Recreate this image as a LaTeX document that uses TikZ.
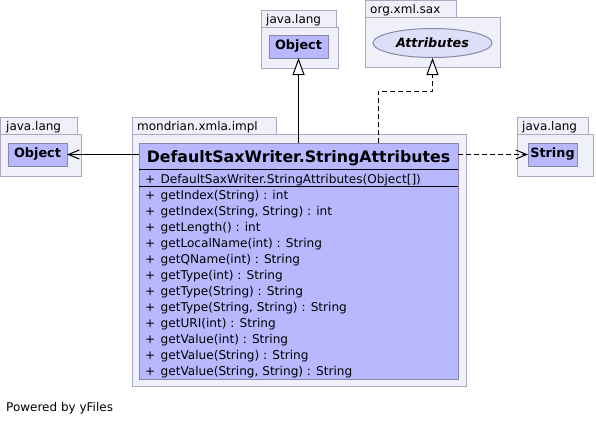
\documentclass[tikz,border=0pt]{standalone}
\usepackage{fontspec}
\setmainfont{DejaVu Sans}
\usetikzlibrary{arrows.meta,shapes.geometric}
\definecolor{pkgfill}{RGB}{240,240,250}
\definecolor{pkgline}{RGB}{168,168,192}
\definecolor{clsfill}{RGB}{184,184,255}
\definecolor{clsline}{RGB}{136,136,170}
\definecolor{ellfill}{RGB}{222,222,248}
\begin{document}
\begin{tikzpicture}[x=1pt,y=-1pt,
  pkg/.style={draw=pkgline, fill=pkgfill, line width=1pt, anchor=north west, inner sep=0pt, outer sep=0pt},
  clsbox/.style={draw=clsline, fill=clsfill, line width=1pt, anchor=north west, inner sep=0pt, outer sep=0pt},
  lbl/.style={anchor=base west, inner sep=0pt, font=\fontsize{12}{14}\selectfont},
  small/.style={font=\fontsize{12.8}{14}\selectfont\bfseries},
  member/.style={anchor=base west, inner sep=0pt, font=\fontsize{12.1}{14}\selectfont},
  assoc/.style={line width=1pt, -{Straight Barb[length=11pt,width=9pt,line width=1pt]}},
  dep/.style={line width=1pt, dash pattern=on 5pt off 3pt, -{Straight Barb[length=11pt,width=9pt,line width=1pt]}},
  inh/.style={line width=1pt, -{Triangle[length=17pt,width=12pt,fill=white,line width=1pt]}},
  real/.style={line width=1pt, dash pattern=on 5pt off 3pt, -{Triangle[length=17pt,width=12pt,fill=white,line width=1pt]}},
]
\useasboundingbox (0,0) rectangle (596,423);

% left java.lang
\node[pkg, minimum width=77pt, minimum height=17pt] (ltab) at (0.5,117) {};
\node[pkg, minimum width=81pt, minimum height=42pt] (lpkg) at (0.5,134) {};
\node[lbl] (ltabtxt) at (6,130) {java.lang};
\node[clsbox, minimum width=59pt, minimum height=23pt, small] (lobj) at (8,143) {Object};

% top java.lang
\node[pkg, minimum width=75pt, minimum height=17pt] (ttab) at (261,10) {};
\node[pkg, minimum width=77pt, minimum height=41pt] (tpkg) at (261,27) {};
\node[lbl] (ttabtxt) at (266,23) {java.lang};
\node[clsbox, minimum width=59pt, minimum height=23pt, small] (tobj) at (269,35) {Object};

% org.xml.sax
\node[pkg, minimum width=91pt, minimum height=17pt] (stab) at (365,0.5) {};
\node[pkg, minimum width=135pt, minimum height=50pt] (spkg) at (365,17) {};
\node[lbl] (stabtxt) at (370,13) {org.xml.sax};
\node[ellipse, draw=clsline, fill=ellfill, line width=1pt, minimum width=119pt, minimum height=29pt, inner sep=0pt,
      font=\fontsize{12.8}{14}\selectfont\bfseries\itshape] (attr) at (432.5,43) {Attributes};

% right java.lang
\node[pkg, minimum width=71pt, minimum height=17pt] (rtab) at (517,117) {};
\node[pkg, minimum width=76pt, minimum height=42pt] (rpkg) at (517,134) {};
\node[lbl] (rtabtxt) at (522,130) {java.lang};
\node[clsbox, minimum width=49pt, minimum height=23pt, small] (str) at (528,143) {String};

% main package
\node[pkg, minimum width=144pt, minimum height=17pt] (mtab) at (132,117) {};
\node[pkg, minimum width=334pt, minimum height=252pt] (mpkg) at (132,134) {};
\node[lbl] (mtabtxt) at (137,130) {mondrian.xmla.impl};
\node[clsbox, minimum width=319pt, minimum height=236pt] (cls) at (139,143) {};
\coordinate (sep1) at (0,169.5);
\coordinate (sep2) at (0,186);
\draw[line width=1pt] (cls.west |- sep1) -- (cls.east |- sep1);
\draw[line width=1pt] (cls.west |- sep2) -- (cls.east |- sep2);
\node[inner sep=0pt, font=\fontsize{15.8}{18}\selectfont\bfseries, anchor=base] (title) at (298.5,162.5) {DefaultSaxWriter.StringAttributes};
\node[member] (ctor) at (145,183) {+\hspace{1.5pt} DefaultSaxWriter.StringAttributes(Object[])};
\foreach \t [count=\i from 0] in {{getIndex(String) : int},{getIndex(String, String) : int},{getLength() : int},{getLocalName(int) : String},{getQName(int) : String},{getType(int) : String},{getType(String) : String},{getType(String, String) : String},{getURI(int) : String},{getValue(int) : String},{getValue(String) : String},{getValue(String, String) : String}}
  \node[member] (m\i) at (145,199+16.05*\i) {+\hspace{1.5pt} \t};

% connectors
\draw[assoc] (cls.west |- lobj.east) -- (lobj.east);
\draw[inh] (tobj.south |- cls.north) -- (tobj.south);
\coordinate (r1) at (378,91);
\draw[real] (cls.north -| r1) -- (r1) -| (attr.south);
\draw[dep] (cls.east |- str.west) -- (str.west);

\node[lbl] (powered) at (6,411) {Powered by yFiles};
\end{tikzpicture}
\end{document}
